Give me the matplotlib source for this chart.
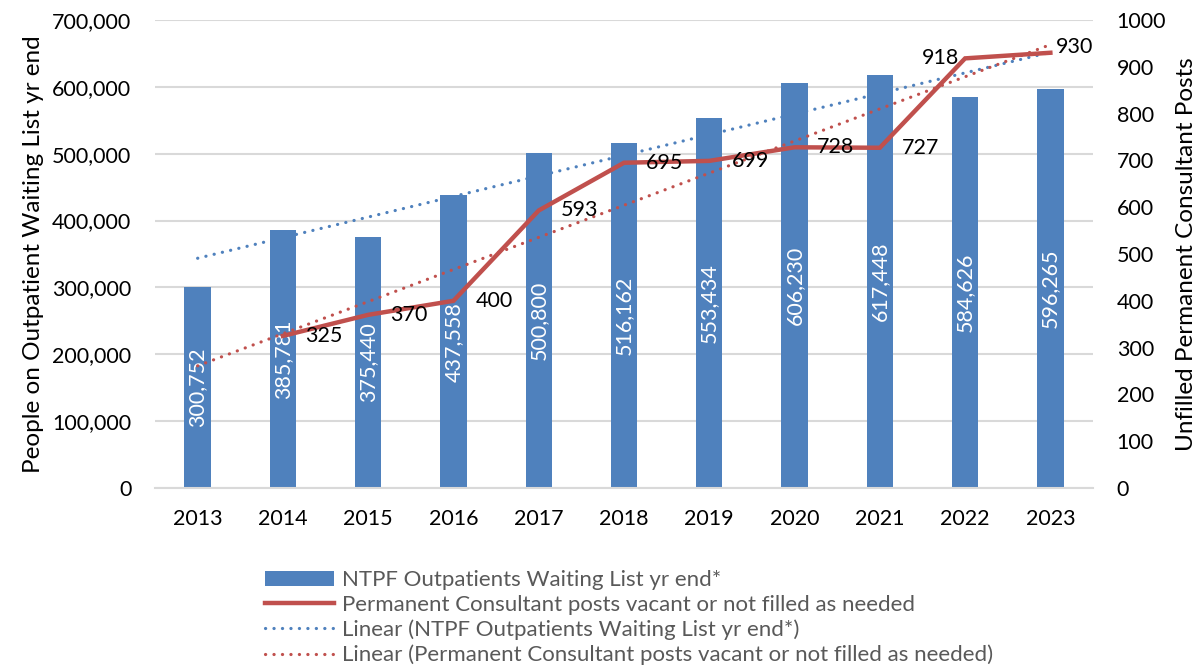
import numpy as np
import matplotlib
matplotlib.use("Agg")
import matplotlib.pyplot as plt
from matplotlib.lines import Line2D
from matplotlib.patches import Patch

plt.rcParams['font.family'] = ['Lato', 'DejaVu Sans']

years = [2013, 2014, 2015, 2016, 2017, 2018, 2019, 2020, 2021, 2022, 2023]
waiting = [300752, 385781, 375440, 437558, 500800, 516162, 553434, 606230, 617448, 584626, 596265]
post_years = [2014, 2015, 2016, 2017, 2018, 2019, 2020, 2021, 2022, 2023]
posts = [325, 370, 400, 593, 695, 699, 728, 727, 918, 930]

blue = '#4F81BD'
red = '#C0504D'
grid_c = '#D9D9D9'
dot = (0, (0.05, 2.6))

fig = plt.figure(figsize=(12.01, 6.67), dpi=100)
ax = fig.add_axes([155/1201, 1-488/667, (1093-155)/1201, (488-20)/667])
ax2 = ax.twinx()

x = np.arange(len(years))
ax.bar(x, waiting, width=0.31, color=blue, zorder=2)
for xi, v in zip(x, waiting):
    ax.text(xi, v/2, f"{v:,}", rotation=90, ha='center', va='center',
            color='white', fontsize=15.5, zorder=3)

# trend of bars
cb = np.polyfit(x, waiting, 1)
ax.plot(x, np.polyval(cb, x), color=blue, lw=2.3, linestyle=dot,
        dash_capstyle='round', zorder=4)

ax.set_ylim(0, 700000)
ax.set_yticks(np.arange(0, 700001, 100000))
ax.set_yticklabels([f"{v:,}" for v in range(0, 700001, 100000)])
ax.set_xlim(-0.5, len(years)-0.5)
ax.set_xticks(x)
ax.set_xticklabels([str(y) for y in years])
ax.grid(axis='y', color=grid_c, lw=1.5, zorder=0)
ax.set_axisbelow(True)
for s in ['top', 'right', 'left']:
    ax.spines[s].set_visible(False)
ax.spines['bottom'].set_color(grid_c)
ax.spines['bottom'].set_linewidth(1.5)
ax.tick_params(axis='both', length=0, labelsize=15.5, colors='black')
ax.tick_params(axis='x', pad=15)
ax.tick_params(axis='y', pad=17)
ax.set_ylabel('People on Outpatient Waiting List yr end', fontsize=17.5, labelpad=6)

# line on right axis
px = np.array([years.index(y) for y in post_years])
ax2.plot(px, posts, color=red, lw=3.2, zorder=5, solid_joinstyle='miter')
cr = np.polyfit(px, posts, 1)
ax2.plot(x, np.polyval(cr, x), color=red, lw=2.3, linestyle=dot,
         dash_capstyle='round', zorder=4)
label_offsets = {2022: (-4, 0), 2023: (4, 4)}
for xi, yv, yr in zip(px, posts, post_years):
    dx, dy = label_offsets.get(yr, (16, 0))
    ax2.annotate(str(yv), (xi, yv), xytext=(dx, dy), textcoords='offset points',
                 ha='right' if dx < 0 else 'left', va='center', fontsize=15.5,
                 color='black', zorder=6)
ax2.set_ylim(0, 1000)
ax2.set_yticks(np.arange(0, 1001, 100))
for s in ['top', 'right', 'left', 'bottom']:
    ax2.spines[s].set_visible(False)
ax2.tick_params(axis='y', length=0, labelsize=15.5, pad=17)
ax2.set_ylabel('Unfilled Permanent Consultant Posts', fontsize=17.5, labelpad=7)

handles = [
    Patch(facecolor=blue, edgecolor='none'),
    Line2D([], [], color=red, lw=3.2),
    Line2D([], [], color=blue, lw=2.3, linestyle=dot, dash_capstyle='round'),
    Line2D([], [], color=red, lw=2.3, linestyle=dot, dash_capstyle='round'),
]
labels = ['NTPF Outpatients Waiting List yr end*',
          'Permanent Consultant posts vacant or not filled as needed',
          'Linear (NTPF Outpatients Waiting List yr end*)',
          'Linear (Permanent Consultant posts vacant or not filled as needed)']
leg = fig.legend(handles, labels, loc='upper left', bbox_to_anchor=(254/1201, 1-559/667),
                 frameon=False, fontsize=16, handlelength=3.1, handletextpad=0.36,
                 labelspacing=0.21, borderpad=0, labelcolor='#595959')

fig.savefig('out.png', dpi=100)
